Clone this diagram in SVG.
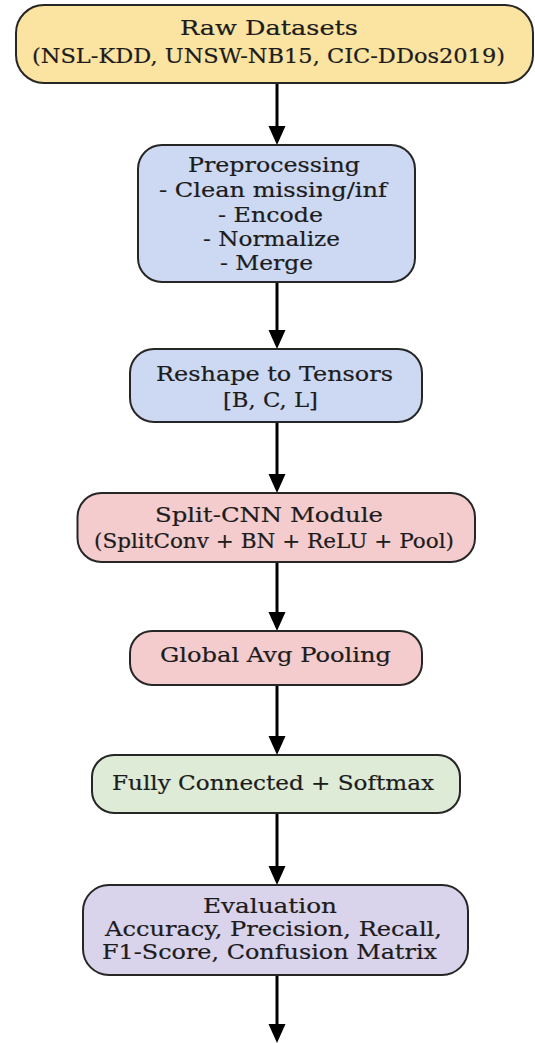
<svg xmlns="http://www.w3.org/2000/svg" width="535" height="1043" viewBox="0 0 535 1043">
<style>
.box{stroke:#262626;stroke-width:2}
.t{font-family:"DejaVu Serif","Liberation Serif",serif;fill:#1c1c1c;stroke:#1c1c1c;stroke-width:0.2px;text-anchor:middle;font-size:20.5px}
.e{stroke:#000;stroke-width:3;fill:none}
.h{fill:#000}
</style>
<rect width="535" height="1043" fill="#fff"/>
<g id="connectors">
<path class="e" d="M277,83 V130"/><path class="h" d="M268.5,126 L285.5,126 L277,145 z"/>
<path class="e" d="M277,282 V334"/><path class="h" d="M268.5,330 L285.5,330 L277,349 z"/>
<path class="e" d="M277,422 V478"/><path class="h" d="M268.5,474 L285.5,474 L277,493 z"/>
<path class="e" d="M277,562 V616"/><path class="h" d="M268.5,612 L285.5,612 L277,631 z"/>
<path class="e" d="M277,685 V740"/><path class="h" d="M268.5,736 L285.5,736 L277,755 z"/>
<path class="e" d="M277,813 V870"/><path class="h" d="M268.5,866 L285.5,866 L277,885 z"/>
<path class="e" d="M277,975 V1028"/><path class="h" d="M268.5,1024 L285.5,1024 L277,1043 z"/>
</g>
<g id="raw">
<rect class="box" x="16" y="5" width="517" height="78" rx="28" fill="#FBE3A1"/>
<text class="t" x="269" y="35" font-size="21.5px" textLength="178" lengthAdjust="spacingAndGlyphs">Raw Datasets</text>
<text class="t" x="268.5" y="63" font-size="21.5px" textLength="473" lengthAdjust="spacingAndGlyphs">(NSL-KDD, UNSW-NB15, CIC-DDos2019)</text>
</g>
<g id="preprocessing">
<rect class="box" x="138" y="145" width="277" height="137" rx="24" fill="#CDD8F2"/>
<text class="t" x="274" y="172" textLength="172" lengthAdjust="spacingAndGlyphs">Preprocessing</text>
<text class="t" x="273" y="197" textLength="228" lengthAdjust="spacingAndGlyphs">- Clean missing/inf</text>
<text class="t" x="270.5" y="222" textLength="105" lengthAdjust="spacingAndGlyphs">- Encode</text>
<text class="t" x="271.5" y="246" textLength="137" lengthAdjust="spacingAndGlyphs">- Normalize</text>
<text class="t" x="266.5" y="270" textLength="93" lengthAdjust="spacingAndGlyphs">- Merge</text>
</g>
<g id="reshape">
<rect class="box" x="130" y="349" width="292" height="73" rx="24" fill="#CDD8F2"/>
<text class="t" x="274.5" y="381" textLength="237" lengthAdjust="spacingAndGlyphs">Reshape to Tensors</text>
<text class="t" x="270.5" y="407" textLength="95" lengthAdjust="spacingAndGlyphs">[B, C, L]</text>
</g>
<g id="splitcnn">
<rect class="box" x="77.5" y="493" width="397.5" height="69" rx="24" fill="#F4CCCE"/>
<text class="t" x="269" y="522" textLength="228" lengthAdjust="spacingAndGlyphs">Split-CNN Module</text>
<text class="t" x="274" y="548" textLength="360" lengthAdjust="spacingAndGlyphs">(SplitConv + BN + ReLU + Pool)</text>
</g>
<g id="gap">
<rect class="box" x="130" y="631" width="292" height="54" rx="22" fill="#F4CCCE"/>
<text class="t" x="275.5" y="662" textLength="231" lengthAdjust="spacingAndGlyphs">Global Avg Pooling</text>
</g>
<g id="fc">
<rect class="box" x="92" y="755" width="368" height="58" rx="22" fill="#DEEBD7"/>
<text class="t" x="273" y="790" textLength="322" lengthAdjust="spacingAndGlyphs">Fully Connected + Softmax</text>
</g>
<g id="evaluation">
<rect class="box" x="83" y="885" width="385" height="90" rx="26" fill="#D9D3EC"/>
<text class="t" x="270" y="913" textLength="134" lengthAdjust="spacingAndGlyphs">Evaluation</text>
<text class="t" x="273.5" y="936" textLength="337" lengthAdjust="spacingAndGlyphs">Accuracy, Precision, Recall,</text>
<text class="t" x="269.5" y="959" textLength="335" lengthAdjust="spacingAndGlyphs">F1-Score, Confusion Matrix</text>
</g>
</svg>
